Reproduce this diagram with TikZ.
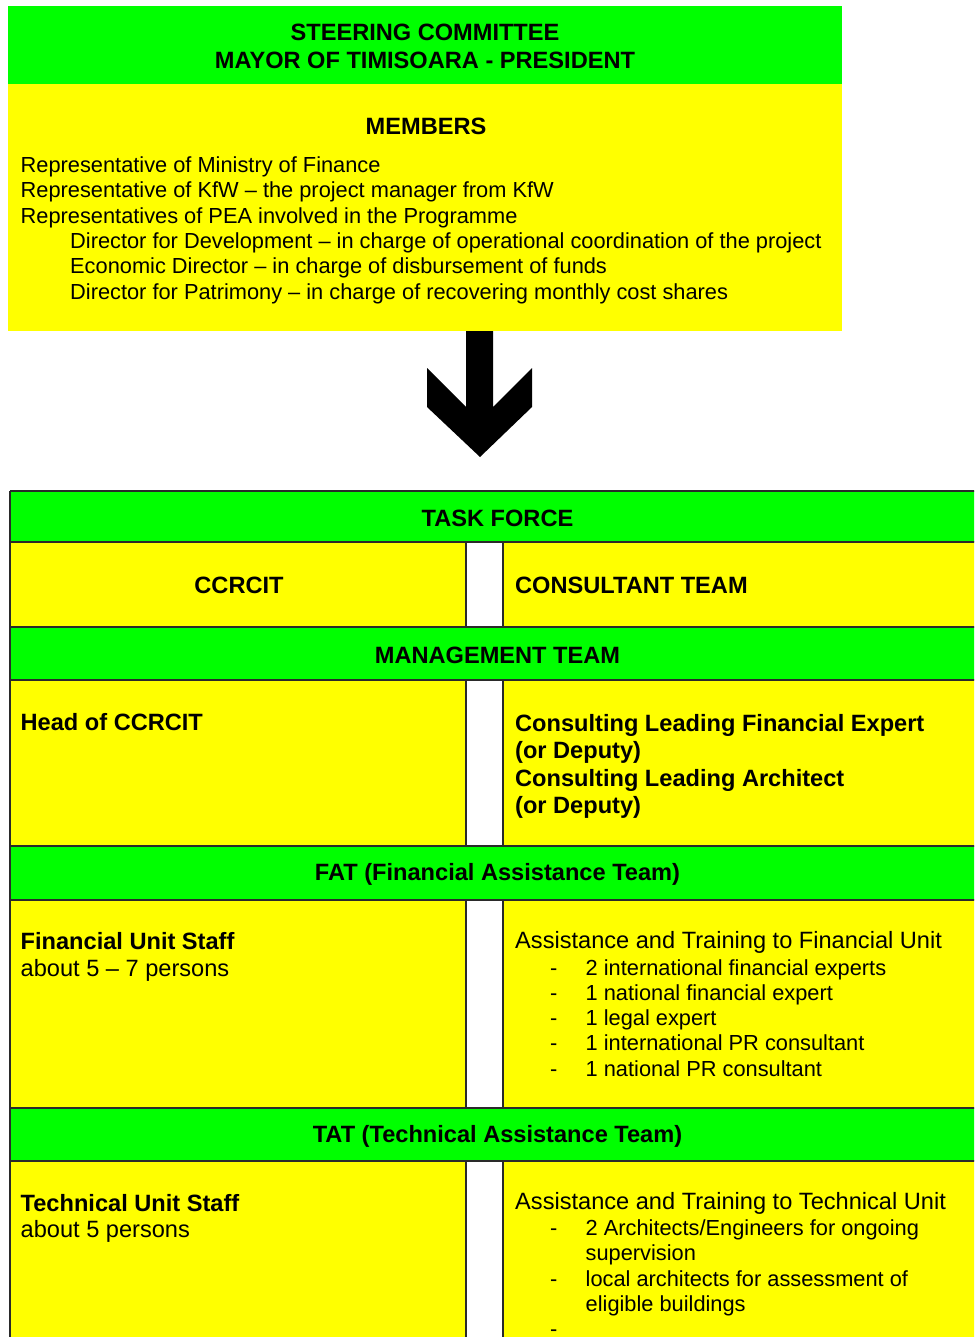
\documentclass[tikz,border=0pt]{standalone}
\usepackage{fontspec}
\setmainfont{Liberation Sans}
\definecolor{grn}{HTML}{00FF00}
\definecolor{ylw}{HTML}{FFFF00}
\definecolor{rulec}{HTML}{2A2A2A}
\begin{document}
\begin{tikzpicture}[x=1pt,y=-1pt,
  reg/.style={font=\fontsize{21.8}{25}\selectfont},
  bld/.style={font=\fontsize{23.6}{27}\selectfont\bfseries},
  lw/.style={anchor=base west, inner sep=0pt},
  ctr/.style={anchor=base, inner sep=0pt},
  gband/.style={fill=grn, draw=none},
  yband/.style={fill=ylw, draw=none},
  rl/.style={draw=rulec, line width=1.5pt},
  blockarrow/.style={fill=black, draw=none}]
\useasboundingbox (0,0) rectangle (974,1337);
\clip (0,0) rectangle (974,1337);

% ---------- Steering committee box ----------
\node[gband, anchor=north west, inner sep=0pt, minimum width=834, minimum height=78] (sc) at (8,6) {};
\node[yband, anchor=north west, inner sep=0pt, minimum width=834, minimum height=247] (mem) at (8,84) {};

\node[bld, ctr] (t1) at (425,41) {STEERING COMMITTEE};
\node[bld, ctr] (t2) at (425,69) {MAYOR OF TIMISOARA - PRESIDENT};
\node[bld, ctr] (t3) at (426,135) {MEMBERS};
\node[reg, lw] (m1) at (20.5,172.5) {Representative of Ministry of Finance};
\node[reg, lw] (m2) at (20.5,197.8) {Representative of KfW -- the project manager from KfW};
\node[reg, lw] (m3) at (20.5,223.1) {Representatives of PEA involved in the Programme};
\node[reg, lw] (m4) at (70,248.4) {Director for Development -- in charge of operational coordination of the project};
\node[reg, lw] (m5) at (70,273.7) {Economic Director -- in charge of disbursement of funds};
\node[reg, lw] (m6) at (70,299) {Director for Patrimony -- in charge of recovering monthly cost shares};

% ---------- block arrow ----------
\fill[blockarrow] (466,331) -- (493,331) -- (493,407) -- (532,368) -- (532,407)
  -- (480,457) -- (427,407) -- (427,368) -- (466,407) -- cycle;

% ---------- Task force table ----------
\fill[grn] (10,491) rectangle (990,542);
\fill[grn] (10,627) rectangle (990,680);
\fill[grn] (10,846) rectangle (990,900);
\fill[grn] (10,1108) rectangle (990,1161);
\foreach \a/\b in {542/627, 680/846, 900/1108, 1161/1400}{
  \fill[ylw] (10,\a) rectangle (466,\b);
  \fill[white] (466,\a) rectangle (503,\b);
  \fill[ylw] (503,\a) rectangle (990,\b);
  \draw[rl] (466,\a) -- (466,\b);
  \draw[rl] (503,\a) -- (503,\b);
}
\foreach \y in {491,542,627,680,846,900,1108,1161}{
  \draw[rl] (10,\y) -- (990,\y);
}
\draw[rl] (10,491) -- (10,1400);

\node[bld, ctr] (tf) at (497.5,526) {TASK FORCE};
\node[bld, ctr] (cc) at (239,593) {CCRCIT};
\node[bld, lw] (ct) at (515,593) {CONSULTANT TEAM};
\node[bld, ctr] (mt) at (497.5,663) {MANAGEMENT TEAM};
\node[bld, lw] (hc) at (20.5,730.5) {Head of CCRCIT};
\node[bld, lw] (c1) at (515,731) {Consulting Leading Financial Expert};
\node[bld, lw] (c2) at (515,758.5) {(or Deputy)};
\node[bld, lw] (c3) at (515,786) {Consulting Leading Architect};
\node[bld, lw] (c4) at (515,813.5) {(or Deputy)};

\node[bld, ctr] (fat) at (497.5,880.5) {FAT (Financial Assistance Team)};
\node[bld, lw] (fu) at (20.5,949) {Financial Unit Staff};
\node[font=\fontsize{23.6}{27}\selectfont, lw] (fp) at (20.5,976) {about 5 -- 7 persons};
\node[font=\fontsize{23.6}{27}\selectfont, lw] (fa) at (515,948) {Assistance and Training to Financial Unit};
\foreach \yy/\tx [count=\i] in {975/2 international financial experts,
   1000.3/1 national financial expert,
   1025.6/1 legal expert,
   1050.9/1 international PR consultant,
   1076.2/1 national PR consultant}{
  \node[reg, lw] (fd\i) at (550,\yy) {-};
  \node[reg, lw] (fi\i) at (585.5,\yy) {\tx};
}

\node[bld, ctr] (tat) at (497.5,1142) {TAT (Technical Assistance Team)};
\node[bld, lw] (tu) at (20.5,1211) {Technical Unit Staff};
\node[font=\fontsize{23.6}{27}\selectfont, lw] (tp) at (20.5,1237) {about 5 persons};
\node[font=\fontsize{23.6}{27}\selectfont, lw] (ta) at (515,1209) {Assistance and Training to Technical Unit};
\node[reg, lw] (td1) at (550,1235) {-};
\node[reg, lw] (ti1) at (585.5,1235) {2 Architects/Engineers for ongoing};
\node[reg, lw] (ti1b) at (585.5,1260.5) {supervision};
\node[reg, lw] (td2) at (550,1286) {-};
\node[reg, lw] (ti2) at (585.5,1286) {local architects for assessment of};
\node[reg, lw] (ti2b) at (585.5,1311.5) {eligible buildings};
\node[reg, lw] (td3) at (550,1336) {-};
\end{tikzpicture}
\end{document}
